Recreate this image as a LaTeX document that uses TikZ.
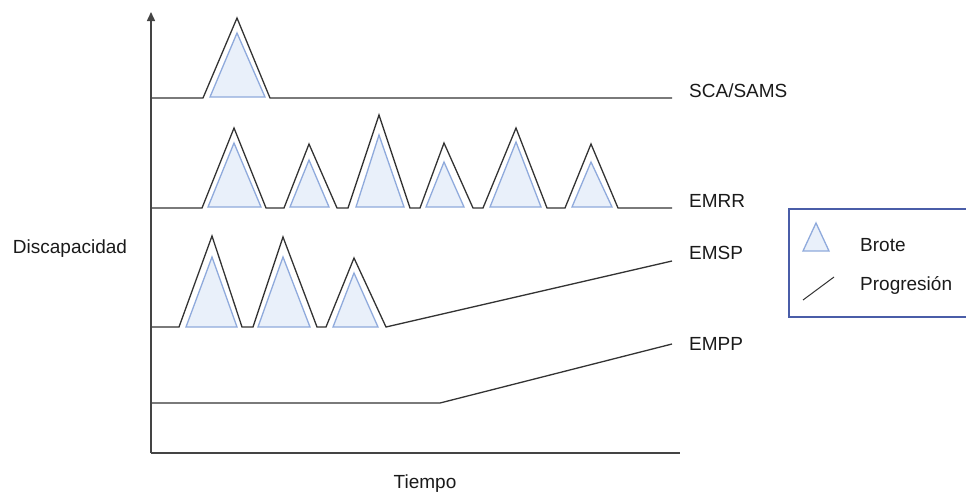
\documentclass[tikz,border=0pt]{standalone}
\usepackage{fontspec}
\setmainfont{Liberation Sans}
\usetikzlibrary{arrows.meta}
\definecolor{bfill}{HTML}{E9F0FA}
\definecolor{bline}{HTML}{8FAADC}
\definecolor{curve}{HTML}{333333}
\definecolor{axisc}{HTML}{444444}
\definecolor{legbox}{HTML}{4A5DA8}
\definecolor{txt}{HTML}{1A1A1A}
\begin{document}
\begin{tikzpicture}[x=1pt,y=-1pt,
  curveline/.style={draw=curve,line width=1.3pt,line join=miter},
  brote/.style={draw=bline,fill=bfill,line width=1.3pt,line join=miter},
  axisline/.style={draw=axisc,line width=1.5pt},
  lbl/.style={anchor=west,inner sep=0pt,text height=13.5pt,text depth=0pt,text=txt,font=\fontsize{19}{22}\selectfont},
  clbl/.style={anchor=center,inner sep=0pt,text height=13.5pt,text depth=0pt,text=txt,font=\fontsize{19}{22}\selectfont}]
\useasboundingbox (0,0) rectangle (966,493);
% axes
\coordinate (origin) at (151,453);
\coordinate (ytop) at (151,12);
\coordinate (xend) at (680,453);
\draw[axisline,-{Triangle[length=9pt,width=8pt]}] (origin) -- (ytop);
\draw[axisline] (origin) -- (xend);
% SCA/SAMS
\draw[brote] (210,97) -- (237,33) -- (265,97) -- cycle;
\draw[curveline] (152,98) -- (203,98) -- (237,18) -- (270,98) -- (672,98);
% EMRR
\draw[brote] (208,207)--(234,143)--(261,207)--cycle;
\draw[brote] (290,207)--(309,160)--(329,207)--cycle;
\draw[brote] (356,207)--(379,135)--(404,207)--cycle;
\draw[brote] (426,207)--(444,162)--(464,207)--cycle;
\draw[brote] (490,207)--(516,142)--(541,207)--cycle;
\draw[brote] (572,207)--(591,162)--(612,207)--cycle;
\draw[curveline] (152,208) -- (202,208) -- (234,128) -- (266,208) -- (284,208) -- (309,144) -- (337,208) -- (348,208) -- (379,115) -- (410,208) -- (420,208) -- (444,143) -- (473,208) -- (483,208) -- (516,128) -- (547,208) -- (565,208) -- (591,144) -- (618,208) -- (672,208);
% EMSP
\draw[brote] (186,327)--(212,257)--(237,327)--cycle;
\draw[brote] (258,327)--(283,257)--(310,327)--cycle;
\draw[brote] (333,327)--(354,273)--(378,327)--cycle;
\draw[curveline] (152,327) -- (179,327) -- (212,236) -- (242,327) -- (253,327) -- (283,237) -- (317,327) -- (326,327) -- (354,258) -- (386,327) -- (672,261);
% EMPP
\draw[curveline] (152,403) -- (440,403) -- (672,344);
% labels
\node[lbl] (sca) at (689,91) {SCA/SAMS};
\node[lbl] (emrr) at (689,201) {EMRR};
\node[lbl] (emsp) at (689,253) {EMSP};
\node[lbl] (empp) at (689,344) {EMPP};
\node[clbl] (disc) at (70,247) {Discapacidad};
\node[clbl] (tiempo) at (425,482) {Tiempo};
% legend
\draw[draw=legbox,line width=1.5pt] (967,209) -- (789,209) -- (789,317) -- (967,317);
\draw[brote] (803,251) -- (816,223) -- (829,251) -- cycle;
\draw[draw=curve,line width=1pt] (803,300) -- (834,277);
\node[lbl] (brote) at (860,245) {Brote};
\node[lbl] (prog) at (860,284) {Progresión};
\end{tikzpicture}
\end{document}
